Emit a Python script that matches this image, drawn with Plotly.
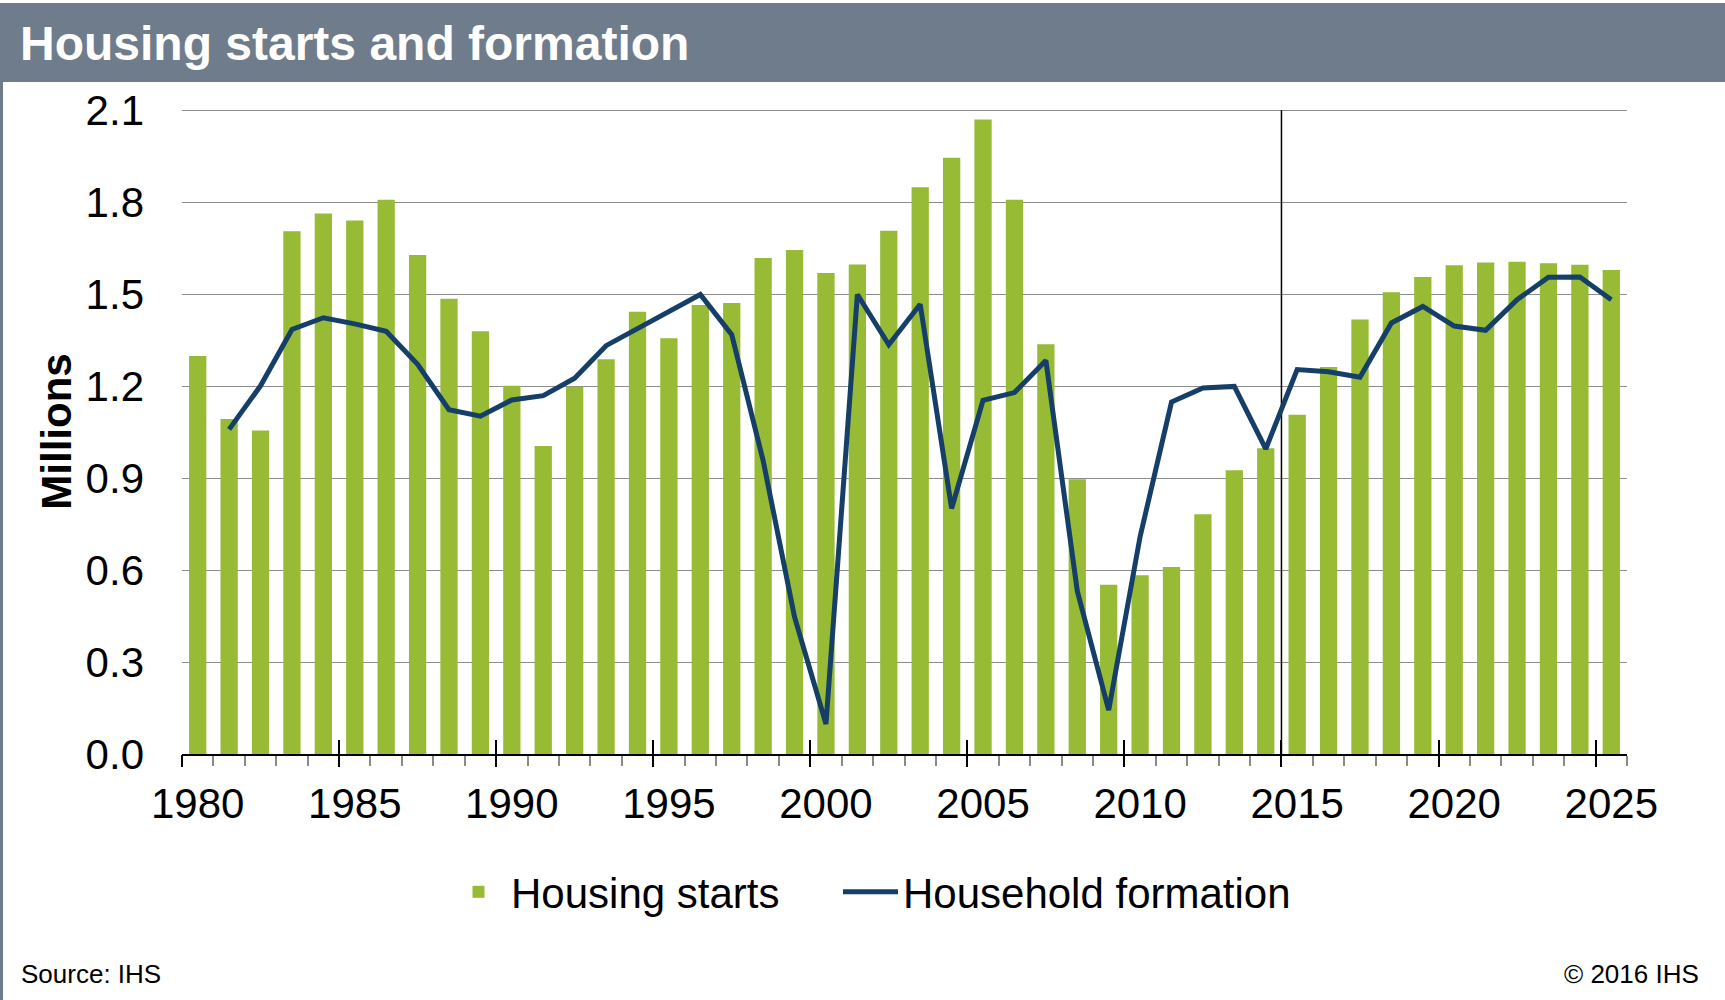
import plotly.graph_objects as go

# ---------------- data ----------------
years = list(range(1980, 2026))
housing_starts = [1.298, 1.093, 1.055, 1.705, 1.763, 1.740, 1.808, 1.628, 1.485, 1.379,
                  1.201, 1.005, 1.198, 1.288, 1.443, 1.356, 1.465, 1.471, 1.618, 1.644,
                  1.569, 1.597, 1.707, 1.849, 1.945, 2.070, 1.808, 1.337, 0.896, 0.552,
                  0.583, 0.610, 0.782, 0.926, 0.997, 1.107, 1.262, 1.417, 1.506, 1.556,
                  1.594, 1.603, 1.606, 1.601, 1.596, 1.579]
formation_years = list(range(1981, 2026))
household_formation = [1.059, 1.201, 1.385, 1.423, 1.403, 1.379, 1.271, 1.123, 1.102,
                       1.155, 1.169, 1.226, 1.332, 1.389, 1.446, 1.499, 1.368, 0.957,
                       0.447, 0.098, 1.499, 1.335, 1.467, 0.801, 1.154, 1.179, 1.284,
                       0.532, 0.143, 0.709, 1.148, 1.194, 1.199, 0.995, 1.254, 1.247,
                       1.229, 1.406, 1.460, 1.396, 1.382, 1.482, 1.555, 1.556, 1.482]
label_years = list(range(1980, 2026, 5))
y_ticks = [0.0, 0.3, 0.6, 0.9, 1.2, 1.5, 1.8, 2.1]
forecast_start = 2015

# ---------------- styling ----------------
W, H = 1725, 1000
Y_TOP = 2.104
ML, MR, MB = 182, 98, 246
PH_EXACT = 754.3 - 110.7            # pixel height of 0..2.1
ph = PH_EXACT * Y_TOP / 2.1
MT = round(H - MB - ph)
FONT = "Liberation Sans, Arial, sans-serif"
GREEN = "#97BB34"
NAVY = "#153F69"
SLATE = "#6F7C8B"

pw = W - ML - MR
ph = H - MT - MB


def px_x(px):
    return (px - ML) / pw


def px_y(py):
    return (H - MB - py) / ph


x_range = [years[0] - 0.5, years[-1] + 0.5]
boundaries = [years[0] - 0.5 + k for k in range(len(years) + 1)]
major_bounds = [y - 0.5 for y in label_years]

fig = go.Figure()
fig.add_trace(go.Bar(x=years, y=housing_starts, name="Housing starts",
                     marker=dict(color=GREEN, line=dict(width=0)),
                     hoverinfo="x+y", legend="legend"))
fig.add_trace(go.Scatter(x=formation_years, y=household_formation, name="Household formation",
                         mode="lines", line=dict(color=NAVY, width=5),
                         hoverinfo="x+y", legend="legend2"))
# helper traces so that the tick-only overlay axes exist
fig.add_trace(go.Scatter(x=[None], y=[None], xaxis="x2", showlegend=False, hoverinfo="skip"))
fig.add_trace(go.Scatter(x=[None], y=[None], xaxis="x3", showlegend=False, hoverinfo="skip"))

legend_common = dict(orientation="h", yanchor="middle", xanchor="left",
                     font=dict(size=42, family=FONT), itemwidth=55,
                     bgcolor="rgba(0,0,0,0)")

fig.update_layout(
    width=W, height=H,
    margin=dict(l=ML, r=MR, t=MT, b=MB, pad=0),
    paper_bgcolor="white", plot_bgcolor="white",
    font=dict(family=FONT, color="black", size=42),
    bargap=0.45,
    showlegend=True,
    legend=dict(x=px_x(446), y=px_y(892), **legend_common),
    legend2=dict(x=px_x(838), y=px_y(892), **legend_common),
    xaxis=dict(type="linear", range=x_range, tickmode="array", tickvals=label_years,
               ticktext=[str(v) for v in label_years], ticks="", showgrid=False,
               zeroline=False, showline=True, linecolor="black", linewidth=1.5,
               tickfont=dict(size=42), ticklabelstandoff=12,
               minor=dict(tickmode="array", tickvals=boundaries, ticks="outside",
                          ticklen=10, tickwidth=1.5, tickcolor="#8a8a8a", showgrid=False)),
    xaxis2=dict(type="linear", range=x_range, overlaying="x", anchor="y", side="bottom",
                tickmode="array", tickvals=major_bounds, ticks="outside", ticklen=12,
                tickwidth=1.5, tickcolor="black", showticklabels=False, showgrid=False,
                zeroline=False, showline=False),
    xaxis3=dict(type="linear", range=x_range, overlaying="x", anchor="y", side="bottom",
                tickmode="array", tickvals=major_bounds, ticks="inside", ticklen=14,
                tickwidth=1.5, tickcolor="black", showticklabels=False, showgrid=False,
                zeroline=False, showline=False),
    yaxis=dict(range=[0, Y_TOP], tickmode="array", tickvals=y_ticks,
               ticktext=[f"{v:.1f}" for v in y_ticks], ticks="", showgrid=True,
               gridcolor="#8c8c8c", gridwidth=1.2, zeroline=False, showline=False,
               tickfont=dict(size=42), ticklabelstandoff=37,
               title=dict(text="<b>Millions</b>", font=dict(size=42, family=FONT), standoff=0)),
)

# forecast divider line
fig.add_shape(type="line", xref="x", yref="y", x0=forecast_start - 0.5, x1=forecast_start - 0.5,
              y0=0, y1=2.1, line=dict(color="black", width=1.5), layer="between")

# header bar and left frame line
fig.add_shape(type="rect", xref="paper", yref="paper", x0=px_x(0), x1=px_x(W),
              y0=px_y(82), y1=px_y(3), fillcolor=SLATE, line=dict(width=0), layer="above")
fig.add_shape(type="rect", xref="paper", yref="paper", x0=px_x(0), x1=px_x(3),
              y0=px_y(H), y1=px_y(82), fillcolor=SLATE, line=dict(width=0), layer="above")

fig.add_annotation(text="<b>Housing starts and formation</b>", xref="paper", yref="paper",
                   x=px_x(18), y=px_y(43), xanchor="left", yanchor="middle", showarrow=False,
                   font=dict(size=48, color="white", family=FONT))
fig.add_annotation(text="Source: IHS", xref="paper", yref="paper",
                   x=px_x(19), y=px_y(974), xanchor="left", yanchor="middle", showarrow=False,
                   font=dict(size=26, color="black", family=FONT))
fig.add_annotation(text="© 2016 IHS", xref="paper", yref="paper",
                   x=px_x(1701), y=px_y(974), xanchor="right", yanchor="middle", showarrow=False,
                   font=dict(size=26, color="black", family=FONT))

fig.write_html("out.html", config={"displayModeBar": False},
               post_script="document.body.style.margin='0';")
